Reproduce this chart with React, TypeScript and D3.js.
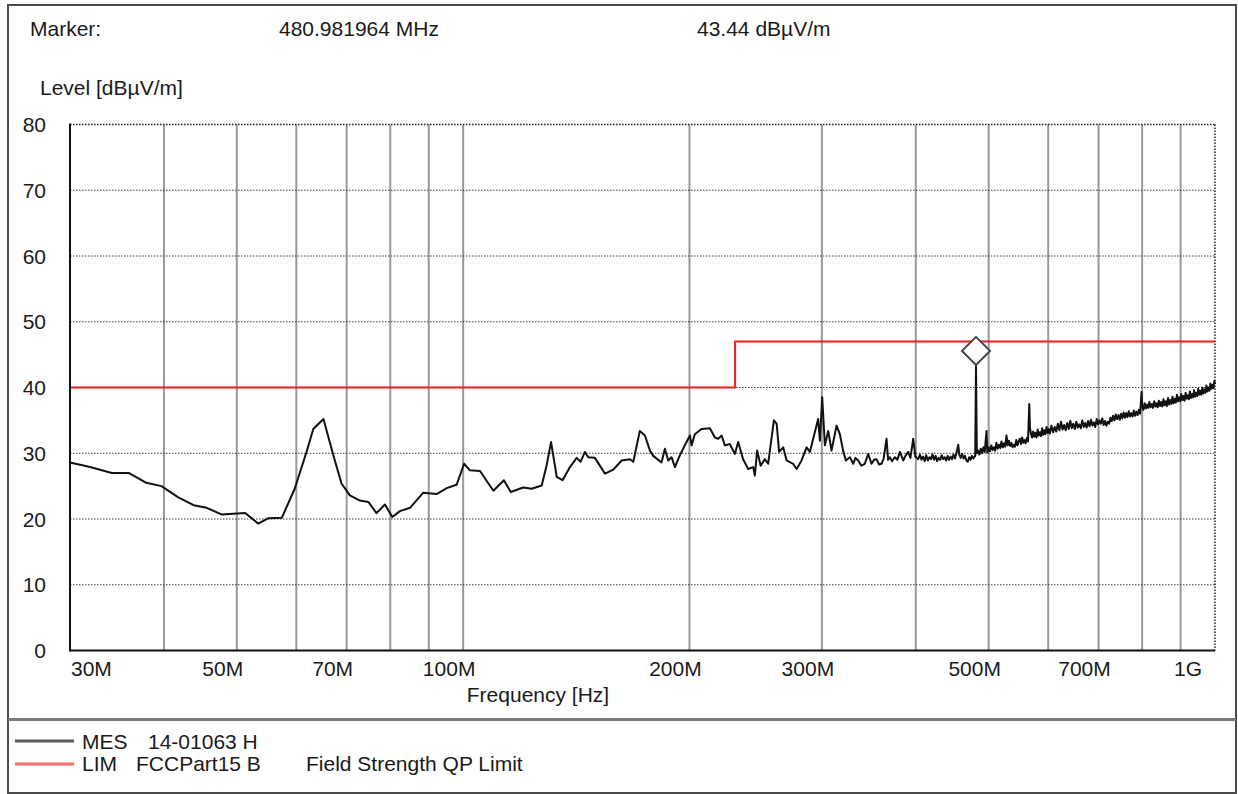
import React from "react";
import * as d3 from "d3";

// ---- data (frequency in MHz, level in dBµV/m) ----
const measurement: [number, number][] = [
  [30, 28.6], [31.9, 27.9], [34.1, 27.0], [35.9, 27.0], [37.9, 25.5], [39.7, 25.0],
  [41.8, 23.3], [43.8, 22.1], [45.6, 21.7], [47.7, 20.7], [51.3, 20.9], [53.4, 19.3],
  [55.0, 20.1], [57.4, 20.2], [59.7, 24.6], [61.9, 30.2], [63.2, 33.7], [65.2, 35.2],
  [67.2, 29.7], [68.9, 25.4], [70.7, 23.6], [72.9, 22.8], [74.8, 22.6], [76.7, 20.9],
  [78.7, 22.2], [80.5, 20.3], [82.4, 21.2], [85.0, 21.7], [88.5, 24.0], [92.2, 23.8],
  [95.1, 24.7], [98.0, 25.2], [100.3, 28.4], [102.1, 27.4], [105.3, 27.3], [109.7, 24.3],
  [113.3, 25.9], [115.7, 24.1], [120.2, 24.8], [123.3, 24.6], [127.2, 25.1], [129.1, 28.1],
  [130.9, 31.7], [133.2, 26.4], [135.6, 25.9], [138.7, 27.9], [141.6, 29.3], [143.3, 28.7],
  [145.2, 30.2], [146.7, 29.4], [149.7, 29.3], [154.4, 26.9], [158.4, 27.5], [162.5, 28.9],
  [166.7, 29.1], [168.4, 28.7], [171.8, 33.4], [174.5, 32.7], [177.2, 30.4], [179.0, 29.6],
  [183.6, 28.6], [185.5, 30.7], [187.4, 28.9], [189.3, 29.4], [191.3, 27.9], [193.2, 29.1],
  [195.2, 30.2], [198.2, 31.7], [200.3, 32.7], [201.3, 31.2], [203.3, 32.9], [207.5, 33.7],
  [212.9, 33.8], [216.2, 32.4], [218.4, 32.2], [220.7, 32.7], [222.9, 31.2], [226.3, 31.4],
  [229.8, 29.9], [232.2, 31.7], [235.7, 29.1], [239.4, 27.6], [243.1, 27.9], [244.3, 26.6],
  [246.1, 30.4], [248.7, 28.1], [251.9, 29.1], [254.5, 28.4], [259.0, 35.0], [261.2, 34.5],
  [263.2, 30.2], [266.5, 30.9], [269.3, 28.9], [274.7, 28.4], [277.7, 27.6], [281.9, 28.9],
  [286.3, 30.9], [289.2, 30.2], [293.6, 33.2], [296.6, 35.2], [298.2, 31.9], [300.3, 38.5],
  [302.8, 31.2], [305.9, 33.4], [309.0, 30.4], [313.8, 34.2], [317.0, 32.9], [320.2, 30.4],
  [322.9, 28.9], [326.9, 29.4], [330.2, 28.4], [332.5, 29.3], [335.3, 28.9], [338.5, 28.1],
  [342.2, 28.4], [345.7, 29.9], [349.3, 28.4], [352.0, 29.0], [354.6, 29.1], [357.5, 28.3],
  [360.1, 28.4], [362.5, 29.2], [365.7, 32.2], [367.5, 29.0], [369.4, 29.4], [372.0, 28.8],
  [375.2, 29.4], [378.0, 29.0], [381.0, 30.2], [384.9, 28.9], [387.5, 29.6], [390.8, 30.2],
  [393.5, 29.3], [396.8, 32.2], [399.5, 29.5], [403, 29.1], [405, 29.8], [407, 29.0],
  [409, 29.5], [411, 28.8], [413, 29.7], [415, 28.9], [417, 29.4], [419, 29.1], [421, 29.8],
  [423, 29.0], [425, 29.6], [427, 28.8], [429, 29.3], [431, 29.0], [433, 29.7], [435, 29.1],
  [437, 29.4], [439, 28.9], [441, 29.6], [443, 29.0], [445, 29.5], [447, 29.1], [449, 29.8],
  [451, 29.2], [453, 30.0], [455.5, 31.3], [457, 29.8], [459, 29.3], [461, 29.9], [463, 29.2],
  [465, 29.6], [467, 28.9], [469, 28.7], [471, 29.4], [473, 29.0], [475, 29.6], [477, 29.2],
  [479.8, 29.6], [480.98, 43.44], [482.2, 30.0],
  [484, 30.4], [486, 29.8], [488, 30.7], [490, 30.0], [492, 30.9], [494, 30.2], [496.7, 33.4],
  [498, 30.1], [500, 30.9], [502, 30.3], [504, 31.2], [506, 30.5], [508, 30.9], [510, 30.4],
  [512, 31.6], [514, 30.7], [516, 31.3], [518, 30.8], [520, 31.8], [522, 30.9], [524, 31.5],
  [526, 31.0], [528, 32.7], [530, 31.2], [532, 31.9], [534, 31.1], [536, 31.6], [538, 30.9],
  [540, 31.3], [542, 31.0], [544, 32.0], [546, 31.2], [548, 31.8], [550, 32.2], [552, 31.4],
  [554, 32.4], [556, 31.6], [558, 32.0], [560, 31.5], [562, 32.3], [564, 31.8], [566.2, 37.5],
  [567.5, 33.8], [569, 33.0], [571, 32.4], [573, 33.3], [575, 32.5], [577, 33.1], [579, 32.4],
  [581, 33.6], [583, 32.7], [585, 33.2], [587, 32.6], [589, 33.8], [591, 32.8], [593, 33.5],
  [595, 32.9], [597, 34.0], [599, 33.1], [601, 33.7], [603, 33.0], [606, 34.2], [609, 33.2],
  [612, 34.0], [615, 33.3], [618, 34.5], [621, 33.5], [624, 34.8], [627, 33.6], [630, 34.3],
  [633, 33.5], [636, 34.6], [639, 33.7], [642, 34.9], [645, 33.8], [648, 34.5], [651, 33.7],
  [654, 34.8], [657, 33.9], [660, 34.4], [663, 33.8], [666, 35.0], [669, 34.0], [672, 34.6],
  [675, 33.9], [678, 34.9], [681, 34.1], [684, 35.1], [687, 34.2], [690, 34.7], [693, 34.0],
  [696, 35.2], [699, 34.4], [702, 35.0], [705, 34.5], [708, 35.3], [711, 34.3], [714, 34.9],
  [717, 34.2], [720, 34.8], [723, 34.5], [726, 35.4], [729, 34.9], [732, 35.7], [735, 35.0],
  [738, 35.9], [741, 35.2], [744, 35.8], [747, 35.1], [750, 36.0], [753, 35.3], [756, 36.2],
  [759, 35.4], [762, 36.1], [765, 35.5], [768, 36.4], [771, 35.6], [774, 36.1], [777, 35.6],
  [780, 36.5], [783, 35.7], [786, 36.3], [789, 35.8], [792, 36.6], [795, 36.0], [798.6, 39.3],
  [800, 37.2], [803, 36.6], [806, 37.6], [809, 36.8], [812, 37.4], [815, 36.9], [818, 37.8],
  [821, 37.0], [824, 37.5], [827, 36.9], [830, 37.9], [833, 37.1], [836, 37.6], [839, 37.0],
  [842, 38.0], [845, 37.2], [848, 37.8], [851, 37.1], [854, 38.2], [857, 37.3], [860, 37.9],
  [863, 37.2], [866, 38.4], [869, 37.4], [872, 38.1], [875, 37.5], [878, 38.6], [881, 37.6],
  [884, 38.3], [887, 37.7], [890, 38.9], [893, 37.9], [896, 38.5], [899, 37.9], [902, 39.0],
  [905, 38.1], [908, 38.7], [911, 38.0], [914, 39.2], [917, 38.3], [920, 38.8], [923, 38.2],
  [926, 39.4], [929, 38.4], [932, 39.0], [935, 38.5], [938, 39.6], [941, 38.6], [944, 39.2],
  [947, 38.7], [950, 39.8], [953, 38.9], [956, 39.5], [959, 38.9], [962, 40.0], [965, 39.1],
  [968, 39.7], [971, 39.2], [974, 40.3], [977, 39.4], [980, 40.0], [983, 39.5], [986, 40.6],
  [989, 39.8], [992, 40.4], [995, 39.9], [998, 41.0], [1000, 40.5],
];

const limitLine: [number, number][] = [
  [30, 40], [230, 40], [230, 47], [1000, 47],
];

const gridFreqs = [40, 50, 60, 70, 80, 90, 100, 200, 300, 400, 500, 600, 700, 800, 900];
const xTickFreqs = [30, 50, 70, 100, 200, 300, 500, 700, 1000];
const xTickLabels = ["30M", "50M", "70M", "100M", "200M", "300M", "500M", "700M", "1G"];
const yTicks = [0, 10, 20, 30, 40, 50, 60, 70, 80];

const markerFreq = 480.981964;
const markerLevel = 43.44;
const markerFreqText = "480.981964 MHz";
const markerLevelText = "43.44 dBµV/m";

const FONT = "'Liberation Sans', Arial, sans-serif";
const TXT = "#1a1a1a";
const FS = 21;

export default function App() {
  const left = 70, right = 1215, top = 124.5, bottom = 650.5;
  const x = d3.scaleLog().domain([30, 1000]).range([left, right]);
  const y = d3.scaleLinear().domain([0, 80]).range([bottom, top]);
  const line = d3.line<[number, number]>().x(d => x(d[0])).y(d => y(d[1]));

  const mx = x(markerFreq);
  const my = y(markerLevel);
  const dh = 14;

  return (
    <svg width={1238} height={794} style={{ position: "absolute", left: 0, top: 0 }}
      fontFamily={FONT}>
      <rect x={0} y={0} width={1238} height={794} fill="#fff" />
      <rect x={8} y={5} width={1228} height={788} fill="#fff" stroke="#4a4a4a" strokeWidth={2} />
      <line x1={8} x2={1236} y1={719.5} y2={719.5} stroke="#7a7a7a" strokeWidth={3} />

      {/* header */}
      <text x={30} y={36} fontSize={FS} fill={TXT}>Marker:</text>
      <text x={279} y={36} fontSize={FS} fill={TXT}>{markerFreqText}</text>
      <text x={697} y={36} fontSize={FS} fill={TXT}>{markerLevelText}</text>
      <text x={40} y={95} fontSize={FS} fill={TXT}>Level [dBµV/m]</text>

      {/* vertical grid */}
      {gridFreqs.map(f => (
        <line key={"vg" + f} x1={x(f)} x2={x(f)} y1={top} y2={bottom}
          stroke="#999" strokeWidth={2} />
      ))}
      {/* horizontal grid */}
      {yTicks.filter(v => v > 0 && v < 80).map(v => (
        <line key={"hg" + v} x1={left} x2={right} y1={y(v)} y2={y(v)}
          stroke="#3a3a3a" strokeWidth={1} strokeDasharray="1.5,1.5" />
      ))}
      {/* top & right dotted border */}
      <line x1={left} x2={right} y1={top} y2={top} stroke="#222" strokeWidth={1.5} strokeDasharray="1.5,1.5" />
      <line x1={right} x2={right} y1={top} y2={bottom} stroke="#222" strokeWidth={1.5} strokeDasharray="1.5,1.5" />

      {/* limit */}
      <path d={line(limitLine) || ""} fill="none" stroke="#ee1c1c" strokeWidth={2} />
      {/* measurement */}
      <path d={line(measurement) || ""} fill="none" stroke="#111" strokeWidth={2} strokeLinejoin="round" />

      {/* marker */}
      <path d={`M${mx},${my - 2 * dh} L${mx + dh},${my - dh} L${mx},${my} L${mx - dh},${my - dh} Z`}
        fill="#fff" stroke="#444" strokeWidth={2} />

      {/* axes */}
      <line x1={left} x2={left} y1={top - 1} y2={bottom + 1} stroke="#111" strokeWidth={2} />
      <line x1={left} x2={right} y1={bottom} y2={bottom} stroke="#111" strokeWidth={2} />

      {/* y tick labels */}
      {yTicks.map(v => (
        <text key={"yt" + v} x={46} y={y(v) + 7.5} fontSize={FS} fill={TXT} textAnchor="end">{v}</text>
      ))}
      {/* x tick labels */}
      {xTickFreqs.map((f, i) => {
        const last = i === xTickFreqs.length - 1;
        const first = i === 0;
        const tx = first ? x(f) + 1 : last ? x(f) - 13 : x(f) - 14;
        const anchor = first ? "start" : last ? "end" : "middle";
        return (
          <text key={"xt" + f} x={tx} y={676} fontSize={FS} fill={TXT} textAnchor={anchor}>
            {xTickLabels[i]}
          </text>
        );
      })}
      <text x={538} y={702} fontSize={FS} fill={TXT} textAnchor="middle">Frequency [Hz]</text>

      {/* legend */}
      <line x1={15} x2={74} y1={741} y2={741} stroke="#5a5a5a" strokeWidth={3} />
      <text x={82} y={749} fontSize={FS} fill={TXT}>MES</text>
      <text x={148} y={749} fontSize={FS} fill={TXT}>14-01063 H</text>
      <line x1={15} x2={74} y1={764} y2={764} stroke="#ff6a6a" strokeWidth={3} />
      <text x={82} y={771} fontSize={FS} fill={TXT}>LIM</text>
      <text x={136} y={771} fontSize={FS} fill={TXT}>FCCPart15 B</text>
      <text x={306} y={771} fontSize={FS} fill={TXT}>Field Strength QP Limit</text>
    </svg>
  );
}
